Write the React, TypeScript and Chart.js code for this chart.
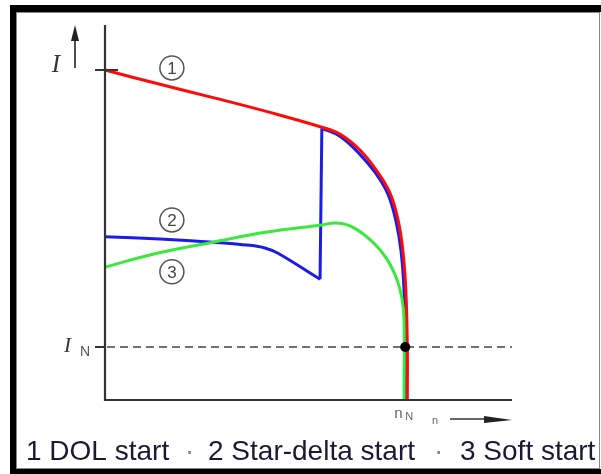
import { useEffect, useRef } from "react";
import { Chart, registerables } from "chart.js";

Chart.register(...registerables);

// Speed n in % of rated speed nN, current I in multiples of rated current IN
const X_MAX = 135.7;
const Y_MAX = 7.08;

// 1 DOL start
const DOL_N = [0, 18.3, 36.7, 55, 72.3, 78.3, 85, 90.7, 95, 97.7, 99.3, 100.3, 100.8, 100.8];
const DOL_I = [6.23, 5.96, 5.7, 5.43, 5.15, 5.02, 4.72, 4.32, 3.91, 3.4, 2.83, 2.08, 1.0, 0];

// 2 Star-delta start: star part, switch-over, delta part
const STAR_N = [0, 18.3, 36, 48.3, 53.3, 57.7, 71.7];
const STAR_I = [3.08, 3.04, 2.98, 2.92, 2.87, 2.77, 2.28];
const SWITCH_N = [71.7, 72.3];
const SWITCH_I = [2.28, 5.13];
const DELTA_N = [72.3, 78.3, 84.3, 90, 94.3, 97, 98.7, 99.7, 100.2, 100.2];
const DELTA_I = [5.13, 4.98, 4.68, 4.3, 3.89, 3.38, 2.81, 2.08, 1.0, 0];

// 3 Soft start
const SOFT_N = [0, 17.3, 36, 54, 71.7, 77.3, 82.7, 89.3, 94, 97.3, 99, 99.7, 99.7];
const SOFT_I = [2.51, 2.77, 2.98, 3.17, 3.3, 3.34, 3.26, 2.98, 2.66, 2.28, 1.92, 1.51, 0];

// Rated point
const RATED_N = 100.1;
const RATED_I = 1;

const LEGEND_ITEMS = ["1 DOL start", "2 Star-delta start", "3 Soft start"];
const CIRCLE_LABELS = ["1", "2", "3"];

const RED = "#ff0a0a";
const BLUE = "#1c1ce8";
const GREEN = "#3de83d";

function pts(xs: number[], ys: number[]) {
  return xs.map((x, i) => ({ x, y: ys[i] }));
}

const decoPlugin = {
  id: "deco",
  beforeDatasetsDraw(chart: any) {
    const { ctx, scales } = chart;
    const x = scales.x;
    const y = scales.y;
    const x0 = x.getPixelForValue(0);
    const x1 = x.getPixelForValue(X_MAX);
    const yIN = y.getPixelForValue(RATED_I);
    ctx.save();
    ctx.strokeStyle = "#444";
    ctx.lineWidth = 1.5;
    ctx.setLineDash([8, 5]);
    ctx.beginPath();
    ctx.moveTo(x0 + 2, yIN);
    ctx.lineTo(x1, yIN);
    ctx.stroke();
    ctx.restore();
  },
  afterDatasetsDraw(chart: any) {
    const { ctx, scales } = chart;
    const x = scales.x;
    const y = scales.y;
    const x0 = x.getPixelForValue(0);
    const x1 = x.getPixelForValue(X_MAX);
    const y0 = y.getPixelForValue(0);
    const yTop = y.getPixelForValue(Y_MAX);
    const yI = y.getPixelForValue(DOL_I[0]);
    const yIN = y.getPixelForValue(RATED_I);
    const xN = x.getPixelForValue(RATED_N);
    ctx.save();

    // axes
    ctx.strokeStyle = "#333";
    ctx.lineWidth = 2.2;
    ctx.beginPath();
    ctx.moveTo(x0, yTop);
    ctx.lineTo(x0, y0);
    ctx.lineTo(x1, y0);
    ctx.stroke();

    // ticks
    ctx.lineWidth = 2;
    ctx.beginPath();
    ctx.moveTo(x0 - 10, yI);
    ctx.lineTo(x0 + 13, yI);
    ctx.moveTo(x0 - 10, yIN);
    ctx.lineTo(x0, yIN);
    ctx.stroke();

    // rated point dot
    ctx.fillStyle = "#000";
    ctx.beginPath();
    ctx.arc(xN, yIN, 5, 0, Math.PI * 2);
    ctx.fill();

    // circled numbers
    const circles = [
      { n: 22.3, i: 6.27 },
      { n: 22.3, i: 3.4 },
      { n: 22.3, i: 2.42 },
    ];
    circles.forEach((c, k) => {
      const cx = x.getPixelForValue(c.n);
      const cy = y.getPixelForValue(c.i);
      ctx.strokeStyle = "#555";
      ctx.lineWidth = 1.5;
      ctx.beginPath();
      ctx.arc(cx, cy, 12, 0, Math.PI * 2);
      ctx.stroke();
      ctx.fillStyle = "#444";
      ctx.font = '17px "Liberation Sans", Arial, sans-serif';
      ctx.textAlign = "center";
      ctx.textBaseline = "middle";
      ctx.fillText(CIRCLE_LABELS[k], cx, cy + 1);
    });

    // I label and arrow
    ctx.fillStyle = "#333";
    ctx.font = 'italic 25px "Liberation Serif", "Times New Roman", serif';
    ctx.textAlign = "center";
    ctx.textBaseline = "alphabetic";
    ctx.fillText("I", 56, 72);
    ctx.strokeStyle = "#222";
    ctx.lineWidth = 1.6;
    ctx.beginPath();
    ctx.moveTo(75, 68);
    ctx.lineTo(75, 36);
    ctx.stroke();
    ctx.fillStyle = "#222";
    ctx.beginPath();
    ctx.moveTo(75, 25);
    ctx.lineTo(71, 41);
    ctx.lineTo(79, 41);
    ctx.closePath();
    ctx.fill();

    // IN label
    ctx.fillStyle = "#333";
    ctx.font = 'italic 21px "Liberation Serif", "Times New Roman", serif';
    ctx.textAlign = "left";
    ctx.fillText("I", 64, yIN + 5);
    ctx.fillStyle = "#555";
    ctx.font = '14px "Liberation Sans", Arial, sans-serif';
    ctx.fillText("N", 80, yIN + 9);

    // nN label and n arrow
    ctx.fillStyle = "#666";
    ctx.font = '15px "Liberation Sans", Arial, sans-serif';
    ctx.fillText("n", xN - 11, y0 + 18);
    ctx.font = '11px "Liberation Sans", Arial, sans-serif';
    ctx.fillText("N", xN, y0 + 20);
    ctx.font = '11px "Liberation Sans", Arial, sans-serif';
    ctx.fillText("n", 432, y0 + 24);
    ctx.strokeStyle = "#333";
    ctx.lineWidth = 1.5;
    ctx.beginPath();
    ctx.moveTo(450, y0 + 19);
    ctx.lineTo(490, y0 + 19);
    ctx.stroke();
    ctx.fillStyle = "#222";
    ctx.beginPath();
    ctx.moveTo(x1, y0 + 20);
    ctx.lineTo(484, y0 + 16);
    ctx.lineTo(484, y0 + 23);
    ctx.closePath();
    ctx.fill();

    // legend text
    ctx.font = '28px "Liberation Sans", Arial, sans-serif';
    ctx.textBaseline = "alphabetic";
    ctx.textAlign = "left";
    ctx.fillStyle = "#1a1a33";
    ctx.fillText(LEGEND_ITEMS[0], 26, 460);
    ctx.fillText(LEGEND_ITEMS[1], 208, 460);
    ctx.fillText(LEGEND_ITEMS[2], 460, 460);
    ctx.fillStyle = "#888";
    ctx.fillText("\u00b7", 185, 460);
    ctx.fillText("\u00b7", 434, 460);

    // outer frame
    ctx.fillStyle = "#000";
    ctx.fillRect(10, 5, 591, 7);
    ctx.fillRect(10, 5, 6, 469);
    ctx.fillRect(10, 469, 591, 5);
    ctx.strokeStyle = "#888";
    ctx.lineWidth = 1;
    ctx.beginPath();
    ctx.moveTo(599.5, 12);
    ctx.lineTo(599.5, 469);
    ctx.moveTo(16, 12.5);
    ctx.lineTo(600, 12.5);
    ctx.moveTo(16.5, 12);
    ctx.lineTo(16.5, 469);
    ctx.moveTo(16, 468.5);
    ctx.lineTo(600, 468.5);
    ctx.stroke();

    ctx.restore();
  },
};

export default function App() {
  const ref = useRef<HTMLCanvasElement | null>(null);
  useEffect(() => {
    if (!ref.current) return;
    const common = {
      pointRadius: 0,
      borderWidth: 3,
      fill: false,
      tension: 0.4,
      clip: false as any,
    };
    const chart = new Chart(ref.current, {
      type: "line",
      data: {
        datasets: [
          { ...common, label: "3 Soft start", data: pts(SOFT_N, SOFT_I), borderColor: GREEN },
          { ...common, label: "1 DOL start", data: pts(DOL_N, DOL_I), borderColor: RED },
          { ...common, label: "2 Star-delta start (star)", data: pts(STAR_N, STAR_I), borderColor: BLUE, tension: 0.3 },
          { ...common, label: "2 Star-delta start (switch)", data: pts(SWITCH_N, SWITCH_I), borderColor: BLUE, tension: 0 },
          { ...common, label: "2 Star-delta start (delta)", data: pts(DELTA_N, DELTA_I), borderColor: BLUE },
        ],
      },
      options: {
        animation: false,
        responsive: false,
        layout: { padding: { left: 105, right: 89, top: 25, bottom: 74 } },
        scales: {
          x: { type: "linear", min: 0, max: X_MAX, display: false },
          y: { type: "linear", min: 0, max: Y_MAX, display: false },
        },
        plugins: { legend: { display: false }, tooltip: { enabled: false } },
        events: [],
      },
      plugins: [decoPlugin],
    });
    return () => chart.destroy();
  }, []);
  return (
    <div style={{ position: "absolute", left: 0, top: 0, width: 601, height: 474, background: "#fff" }}>
      <canvas ref={ref} width={601} height={474} style={{ display: "block", width: 601, height: 474 }} />
    </div>
  );
}
